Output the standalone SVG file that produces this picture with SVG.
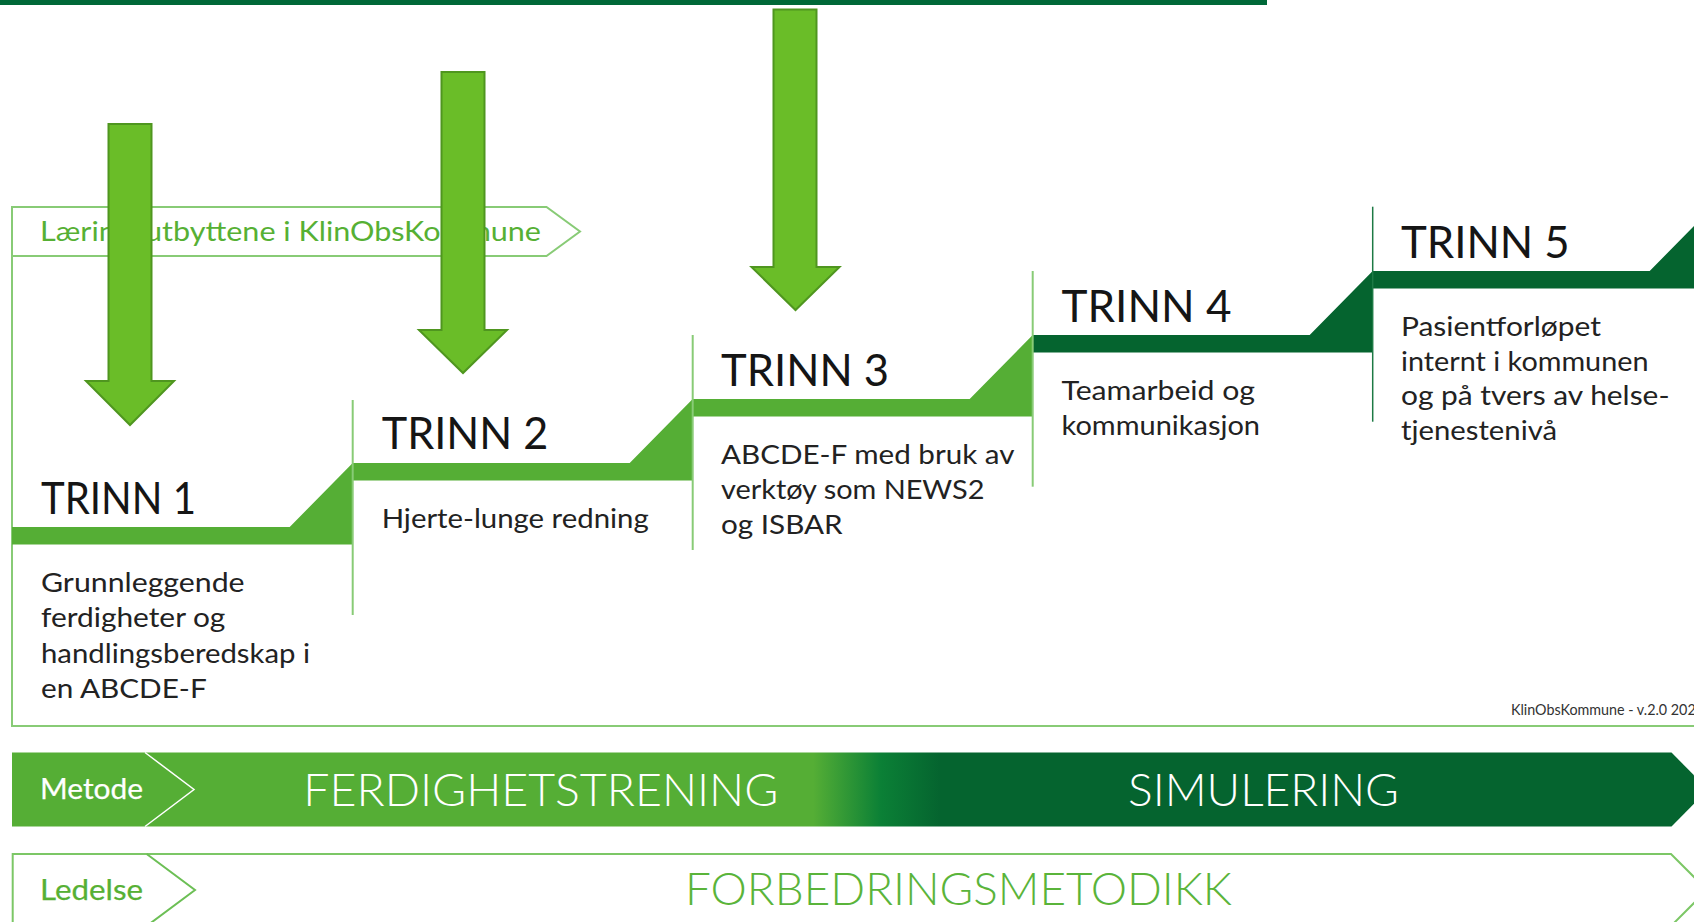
<svg xmlns="http://www.w3.org/2000/svg" width="1694" height="922" viewBox="0 0 1694 922">
  <style>
    .frame { fill: none; stroke: #88cb76; stroke-width: 2; }
    .vline { stroke: #88cb76; stroke-width: 2; }
    .vline-dark { stroke: #1d7a45; stroke-width: 1.5; }
    .bar-light { fill: #55ae35; }
    .bar-dark { fill: #05642f; }
    .title { font-family: Lato, "Liberation Sans", sans-serif; font-size: 45px; fill: #151515; }
    .desc { font-family: Lato, "Liberation Sans", sans-serif; font-size: 27.5px; fill: #222222; }
    .arrow { fill: #6abd28; stroke: #4f961f; stroke-width: 2; stroke-linejoin: miter; }
    .band-label { font-family: Lato, "Liberation Sans", sans-serif; font-size: 29px; font-weight: 400; stroke-width: 0.25px; }
    .band-text { font-family: Lato, "Liberation Sans", sans-serif; font-size: 46px; font-weight: 300; }
  </style>
  <defs>
    <linearGradient id="metodeGrad" gradientUnits="userSpaceOnUse" x1="0" y1="0" x2="1694" y2="0">
      <stop offset="0.48" stop-color="#55ae35"/>
      <stop offset="0.52" stop-color="#0b8036"/>
      <stop offset="0.555" stop-color="#05642f"/>
      <stop offset="1" stop-color="#05642f"/>
    </linearGradient>
  </defs>

  <rect x="0" y="0" width="1267" height="5" fill="#006838"/>

  <g id="frame">
    <path class="frame" d="M12,207 V726 H1694"/>
  </g>

  <g id="learning-outcomes">
    <path class="frame" d="M12,207 H546.5 L580,231.5 L546.5,256 H12 Z"/>
    <text x="40" y="240.5" font-family="Lato, 'Liberation Sans', sans-serif" font-size="27" fill="#56b034" textLength="501" lengthAdjust="spacingAndGlyphs">Læringsutbyttene i KlinObsKommune</text>
  </g>

  <g id="step1">
    <polygon class="bar-light" points="12,527 289.7,527 352.7,463 352.7,544.5 12,544.5"/>
    <text class="title" x="41" y="514" textLength="155" lengthAdjust="spacingAndGlyphs">TRINN 1</text>
    <text class="desc" x="41" y="591.7" textLength="203.6" lengthAdjust="spacingAndGlyphs">Grunnleggende</text>
    <text class="desc" x="41" y="627.2" textLength="184.4" lengthAdjust="spacingAndGlyphs">ferdigheter og</text>
    <text class="desc" x="41" y="662.7" textLength="269" lengthAdjust="spacingAndGlyphs">handlingsberedskap i</text>
    <text class="desc" x="41" y="698" textLength="165.7" lengthAdjust="spacingAndGlyphs">en ABCDE-F</text>
  </g>

  <g id="step2">
    <polygon class="bar-light" points="352.7,463 629.7,463 692.7,399 692.7,480.5 352.7,480.5"/>
    <line class="vline" x1="352.7" y1="400" x2="352.7" y2="615"/>
    <text class="title" x="381.7" y="449" textLength="166.5" lengthAdjust="spacingAndGlyphs">TRINN 2</text>
    <text class="desc" x="381.7" y="528" textLength="267" lengthAdjust="spacingAndGlyphs">Hjerte-lunge redning</text>
  </g>

  <g id="step3">
    <polygon class="bar-light" points="692.7,399 969.7,399 1032.7,335 1032.7,416.5 692.7,416.5"/>
    <line class="vline" x1="692.7" y1="335" x2="692.7" y2="550"/>
    <text class="title" x="721" y="386" textLength="168" lengthAdjust="spacingAndGlyphs">TRINN 3</text>
    <text class="desc" x="721" y="464" textLength="293.5" lengthAdjust="spacingAndGlyphs">ABCDE-F med bruk av</text>
    <text class="desc" x="721" y="499" textLength="263.5" lengthAdjust="spacingAndGlyphs">verktøy som NEWS2</text>
    <text class="desc" x="721" y="534" textLength="121.7" lengthAdjust="spacingAndGlyphs">og ISBAR</text>
  </g>

  <g id="step4">
    <polygon class="bar-dark" points="1032.7,335 1309.7,335 1372.7,271 1372.7,352.5 1032.7,352.5"/>
    <line class="vline" x1="1032.7" y1="271" x2="1032.7" y2="486.7"/>
    <text class="title" x="1061.5" y="322" textLength="170" lengthAdjust="spacingAndGlyphs">TRINN 4</text>
    <text class="desc" x="1061.5" y="400" textLength="193.5" lengthAdjust="spacingAndGlyphs">Teamarbeid og</text>
    <text class="desc" x="1061.5" y="435" textLength="198.5" lengthAdjust="spacingAndGlyphs">kommunikasjon</text>
  </g>

  <g id="step5">
    <polygon class="bar-dark" points="1372.7,271 1649.7,271 1712.7,207 1712.7,288.5 1372.7,288.5"/>
    <line class="vline-dark" x1="1372.7" y1="206.7" x2="1372.7" y2="421.7"/>
    <text class="title" x="1401" y="257.7" textLength="168.7" lengthAdjust="spacingAndGlyphs">TRINN 5</text>
    <text class="desc" x="1401" y="336" textLength="200" lengthAdjust="spacingAndGlyphs">Pasientforløpet</text>
    <text class="desc" x="1401" y="370.5" textLength="247.5" lengthAdjust="spacingAndGlyphs">internt i kommunen</text>
    <text class="desc" x="1401" y="405" textLength="268.5" lengthAdjust="spacingAndGlyphs">og på tvers av helse-</text>
    <text class="desc" x="1401" y="439.5" textLength="156" lengthAdjust="spacingAndGlyphs">tjenestenivå</text>
  </g>

  <g id="version">
    <text x="1511" y="715" font-family="Lato, 'Liberation Sans', sans-serif" font-size="15" fill="#333333" textLength="193" lengthAdjust="spacingAndGlyphs">KlinObsKommune - v.2.0 2025</text>
  </g>

  <g id="arrows">
    <path id="arrow1" class="arrow" d="M108.5,124 H151.5 V381 H174 L130,425 L86,381 H108.5 Z"/>
    <path id="arrow2" class="arrow" d="M441.5,72 H484.5 V330 H507 L463,373 L419,330 H441.5 Z"/>
    <path id="arrow3" class="arrow" d="M773.5,9.5 H816.5 V267 H839.5 L795.5,310 L751.5,267 H773.5 Z"/>
  </g>

  <g id="metode">
    <path d="M12,752.5 H1671.5 L1708,789.5 L1671.5,826.5 H12 Z" fill="url(#metodeGrad)"/>
    <path d="M145,752.5 L194,789.5 L145,826.5" fill="none" stroke="#ffffff" stroke-width="1.5"/>
    <text class="band-label" x="40" y="798.5" fill="#ffffff" stroke="#ffffff" textLength="103" lengthAdjust="spacingAndGlyphs">Metode</text>
    <text class="band-text" x="303.3" y="806" fill="#ffffff" textLength="475" lengthAdjust="spacingAndGlyphs">FERDIGHETSTRENING</text>
    <text class="band-text" x="1128" y="806" fill="#ffffff" textLength="271" lengthAdjust="spacingAndGlyphs">SIMULERING</text>
  </g>

  <g id="ledelse">
    <path d="M12.7,854 H1671 L1707,890 L1671,926 H12.7 Z" fill="#ffffff" stroke="#7cc766" stroke-width="2"/>
    <path d="M146.7,854 L195,890 L146.7,926" fill="none" stroke="#6cbf55" stroke-width="2"/>
    <text class="band-label" x="40" y="899.5" fill="#56b034" stroke="#56b034" textLength="103" lengthAdjust="spacingAndGlyphs">Ledelse</text>
    <text class="band-text" x="685" y="905" fill="#5ab43a" textLength="547" lengthAdjust="spacingAndGlyphs">FORBEDRINGSMETODIKK</text>
  </g>
</svg>
